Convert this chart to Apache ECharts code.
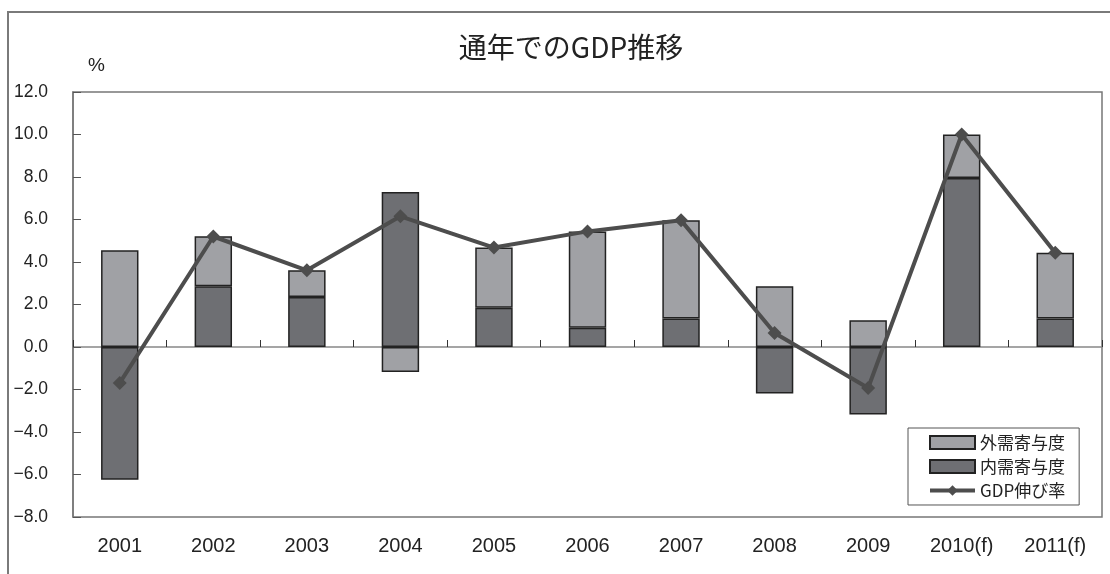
<!DOCTYPE html>
<html>
<head>
<meta charset="utf-8">
<script src="https://cdn.jsdelivr.net/npm/echarts@6/dist/echarts.min.js"></script>
<style>html,body{margin:0;padding:0;background:#fff;}#c{width:1110px;height:574px;}</style>
</head>
<body>
<div id="c"></div>
<script>
const categories = ['2001','2002','2003','2004','2005','2006','2007','2008','2009','2010(f)','2011(f)'];
const domestic = [-6.25, 2.86, 2.35, 7.3, 1.85, 0.91, 1.34, -2.19, -3.18, 7.95, 1.34];
const external = [4.55, 2.35, 1.26, -1.18, 2.83, 4.53, 4.62, 2.86, 1.26, 2.05, 3.10];
const gdp = [-1.69, 5.2, 3.61, 6.15, 4.68, 5.44, 5.96, 0.66, -1.93, 10.0, 4.44];
const yTicks = { min: -8, max: 12, interval: 2 };

const FONT = "'Liberation Sans', 'Noto Sans CJK JP', sans-serif";
const chart = echarts.init(document.getElementById('c'), null, { renderer: 'canvas' });
chart.setOption({
  backgroundColor: '#fff',
  animation: false,
  title: [
    { text: '通年でのGDP推移', left: 566, top: 28, textAlign: 'center',
      textStyle: { fontFamily: "'Noto Sans CJK JP', sans-serif", fontSize: 28, fontWeight: 'normal', color: '#222' } },
    { text: '%', left: 83, top: 51,
      textStyle: { fontFamily: FONT, fontSize: 19, fontWeight: 'normal', color: '#222' } }
  ],
  graphic: [
    { type: 'rect', z: -10, silent: true, shape: { x: 8, y: 12, width: 1300, height: 800 },
      style: { fill: 'none', stroke: '#7a7a7a', lineWidth: 2 } }
  ],
  legend: {
    data: [
      { name: '外需寄与度', icon: 'rect' },
      { name: '内需寄与度', icon: 'rect' },
      { name: 'GDP伸び率', lineStyle: { width: 4, color: '#4D4D4D' }, itemStyle: { color: '#4D4D4D' } }
    ],
    orient: 'vertical', left: 908, top: 428,
    padding: [6, 14, 6, 20], itemGap: 7, itemWidth: 45, itemHeight: 13,
    borderColor: '#555', borderWidth: 1, backgroundColor: '#fff',
    textStyle: { fontFamily: "'Noto Sans CJK JP', sans-serif", fontSize: 17, color: '#222' }
  },
  grid: { left: 73, top: 92, right: 8, bottom: 57, show: true, borderColor: '#777', borderWidth: 1.5, backgroundColor: 'transparent' },
  xAxis: [
    { type: 'category', data: categories, position: 'bottom',
      axisLine: { onZero: true, lineStyle: { color: '#888', width: 1.5 } },
      axisTick: { show: true, inside: true, length: 7, lineStyle: { color: '#333' } },
      axisLabel: { show: false } },
    { type: 'category', data: categories, position: 'bottom',
      axisLine: { show: false, onZero: false }, axisTick: { show: false },
      axisLabel: { show: true, margin: 19, fontFamily: FONT, fontSize: 20, color: '#222' } }
  ],
  yAxis: {
    type: 'value', min: yTicks.min, max: yTicks.max, interval: yTicks.interval,
    axisLine: { show: true, lineStyle: { color: '#777', width: 1.5 } },
    axisTick: { show: true, inside: true, length: 8, lineStyle: { color: '#555' } },
    splitLine: { show: false },
    axisLabel: { margin: 25, fontFamily: FONT, fontSize: 17.5, color: '#222',
      formatter: v => (v < 0 ? '\u2212' + Math.abs(v).toFixed(1) : v.toFixed(1)) }
  },
  series: [
    { name: '内需寄与度', type: 'bar', stack: 'g', data: domestic, barWidth: '40%',
      itemStyle: { color: '#6E6F73', borderColor: '#222', borderWidth: 1.5 } },
    { name: '外需寄与度', type: 'bar', stack: 'g', data: external, barWidth: '40%',
      itemStyle: { color: '#A0A1A5', borderColor: '#222', borderWidth: 1.5 } },
    { name: 'GDP伸び率', type: 'line', data: gdp, symbol: 'diamond', symbolSize: 14,
      lineStyle: { color: '#4D4D4D', width: 4 }, itemStyle: { color: '#4D4D4D' }, z: 5 }
  ]
});
</script>
</body>
</html>
